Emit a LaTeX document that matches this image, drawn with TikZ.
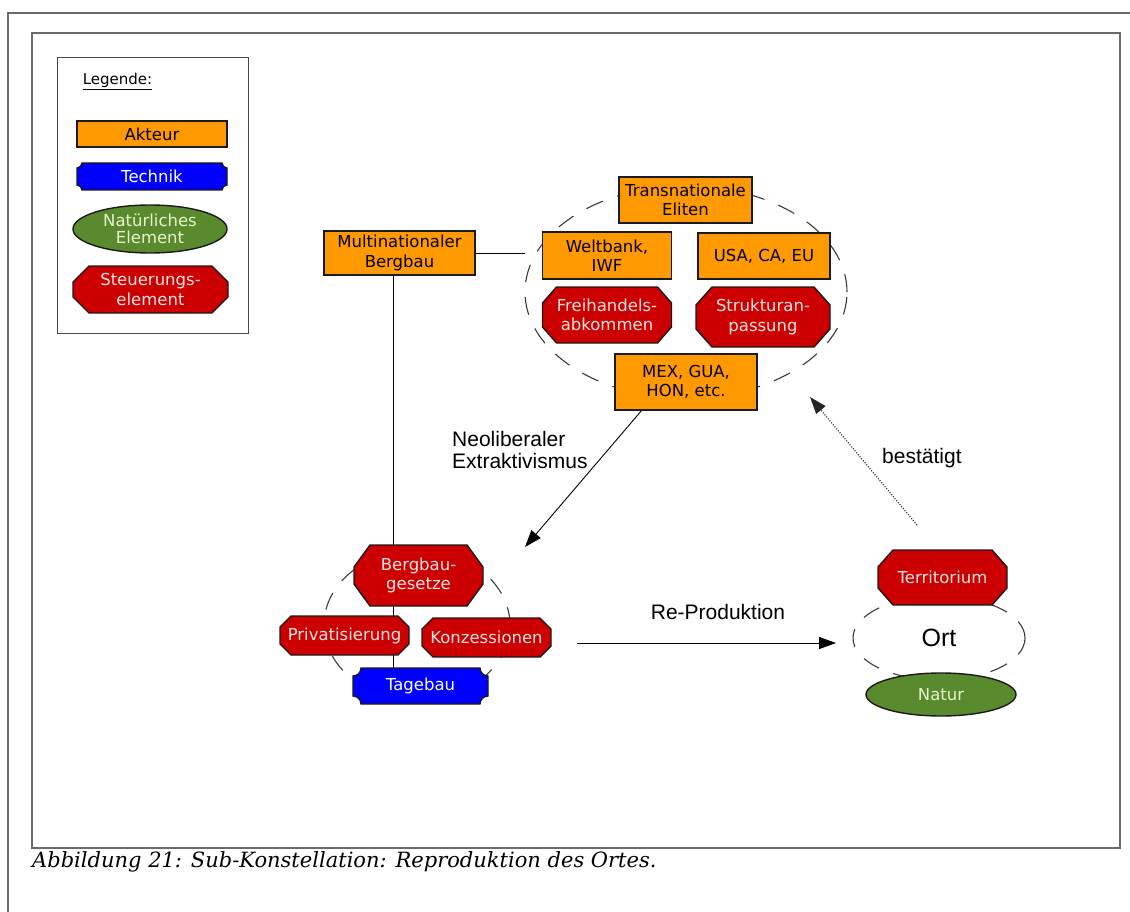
\documentclass[tikz,border=0pt]{standalone}
\usepackage{fontspec}
\usetikzlibrary{shapes.geometric,arrows.meta,calc}
\newfontfamily\dvs{DejaVu Sans}
\newfontfamily\lbs{Liberation Sans}
\newfontfamily\dvserif{DejaVu Serif}
\definecolor{orangeC}{HTML}{FF9900}
\definecolor{redC}{HTML}{CC0000}
\definecolor{blueC}{HTML}{0000FF}
\definecolor{greenC}{HTML}{5A8A2E}
\definecolor{greentext}{HTML}{E8F2CC}
\definecolor{redtext}{HTML}{FFE4E4}
\definecolor{edgeC}{HTML}{1A1A1A}
\definecolor{dashC}{HTML}{3A3A3A}
\definecolor{frameC}{HTML}{6A6A6A}
\pgfdeclarelayer{bg}
\pgfsetlayers{bg,main}
% octagon around node #1, chamfer x #2, chamfer y #3, style #4
\newcommand\octo[4]{%
 \draw[#4] ($(#1.north west)+(#2,0)$) -- ($(#1.north east)+(-#2,0)$) -- ($(#1.north east)+(0,#3)$) -- ($(#1.south east)+(0,-#3)$) -- ($(#1.south east)+(-#2,0)$) -- ($(#1.south west)+(#2,0)$) -- ($(#1.south west)+(0,-#3)$) -- ($(#1.north west)+(0,#3)$) -- cycle;}
% ticket shape (concave notched corners) around node #1, radius #2, style #3
\newcommand\ticketshape[3]{%
 \draw[#3] ($(#1.north west)+(#2,0)$) -- ($(#1.north east)+(-#2,0)$)
   .. controls +(0,0.55*#2) and +(-0.55*#2,0) .. ($(#1.north east)+(0,#2)$)
   -- ($(#1.south east)+(0,-#2)$)
   .. controls +(-0.55*#2,0) and +(0,-0.55*#2) .. ($(#1.south east)+(-#2,0)$)
   -- ($(#1.south west)+(#2,0)$)
   .. controls +(0,-0.55*#2) and +(0.55*#2,0) .. ($(#1.south west)+(0,-#2)$)
   -- ($(#1.north west)+(0,#2)$)
   .. controls +(0.55*#2,0) and +(0,0.55*#2) .. ($(#1.north west)+(#2,0)$) -- cycle;}
\begin{document}
\begin{tikzpicture}[x=1pt,y=-1pt,
  box/.style={inner sep=0pt, outer sep=0pt, align=center, font=\dvs\fontsize{16.5}{19.5}\selectfont},
  akteur/.style={box, rectangle, draw=edgeC, line width=1.4pt, fill=orangeC, text=black},
  steuer/.style={box, rectangle, text=redtext},
  technik/.style={box, rectangle, text=white},
  natur/.style={box, ellipse, draw=edgeC, line width=1.4pt, fill=greenC, text=greentext},
  redshape/.style={draw=edgeC, line width=1.4pt, fill=redC},
  blueshape/.style={draw=edgeC, line width=1.4pt, fill=blueC},
  dashell/.style={ellipse, draw=dashC, line width=1.1pt, dash pattern=on 18pt off 15pt, inner sep=0pt, outer sep=0pt},
  conn/.style={draw=black, line width=0.9pt},
  arr/.style={conn, -{Triangle[length=17pt,width=12pt]}},
  dotarr/.style={draw=black!85, line width=1.2pt, dash pattern=on 1pt off 1.6pt, -{Triangle[length=17pt,width=12pt]}},
  lbl/.style={font=\lbs\fontsize{21}{22}\selectfont, inner sep=0pt, align=left},
  frame/.style={draw=frameC, line width=1.8pt},
  legframe/.style={draw=edgeC!80, line width=1pt}]
\useasboundingbox (0,0) rectangle (1130,912);
% frames
\draw[frame] (8,912) -- (8,13) -- (1130,13);
\draw[frame] (32,33) rectangle (1120,848);
\draw[legframe] (57,58) rectangle (248,333);

% legend
\node[box, anchor=base, font=\dvs\fontsize{15}{18}\selectfont] (legT) at (117.5,85) {\underline{Legende:}};
\node[akteur, minimum width=150, minimum height=26] (legA) at (152,134) {Akteur};
\node[technik, minimum width=150, minimum height=27] (legB) at (152,176.5) {Technik};
\node[natur, minimum width=154, minimum height=48, font=\dvs\fontsize{16.5}{17.5}\selectfont] (legC) at (150,229) {Natürliches\\Element};
\node[steuer, minimum width=155, minimum height=47] (legD) at (150.5,289.5) {Steuerungs-\\element};

% upper cluster
\node[akteur, minimum width=133, minimum height=46] (tne) at (685.5,200) {Transnationale\\Eliten};
\node[akteur, minimum width=151, minimum height=44] (mb) at (399.5,253) {Multinationaler\\Bergbau};
\node[akteur, minimum width=129, minimum height=47] (wb) at (607,255.5) {Weltbank,\\IWF};
\node[akteur, minimum width=132, minimum height=46] (usa) at (764,256) {USA, CA, EU};
\node[steuer, minimum width=129, minimum height=56] (fha) at (607,315) {Freihandels-\\abkommen};
\node[steuer, minimum width=134, minimum height=60] (sap) at (763,317) {Strukturan-\\passung};
\node[akteur, minimum width=142, minimum height=56] (mex) at (686,382) {MEX, GUA,\\HON, etc.};

% lower cluster
\node[steuer, minimum width=129, minimum height=61] (bgg) at (418.5,575.5) {Bergbau-\\gesetze};
\node[steuer, minimum width=129, minimum height=39] (priv) at (344.5,635.5) {Privatisierung};
\node[steuer, minimum width=129, minimum height=39] (konz) at (486.5,637.5) {Konzessionen};
\node[technik, minimum width=135, minimum height=36] (tag) at (420.5,686) {Tagebau};

% right cluster
\node[steuer, minimum width=129, minimum height=55] (terr) at (942.5,577.5) {Territorium};
\node[natur, minimum width=150, minimum height=43] (nat) at (941,694.5) {Natur};

% labels
\node[lbl, anchor=base west] (neoL) at (452,468) {Neoliberaler\\Extraktivismus};
\node[lbl, anchor=base west] (bestL) at (882,463) {bestätigt};
\node[lbl, anchor=base] (repL) at (718,619) {Re-Produktion};

% caption
\node[anchor=base west, inner sep=0pt, font=\dvserif\itshape\fontsize{21}{25}\selectfont] (cap) at (32,867) {Abbildung 21: Sub-Konstellation: Reproduktion des Ortes.};

% free ends of connectors
\coordinate (neoE) at (525,547);
\coordinate (rpS) at (577,643);
\coordinate (rpE) at (836,643);
\coordinate (bsS) at (917,525);
\coordinate (bsE) at (810,397);

\begin{pgfonlayer}{bg}
  \node[dashell, minimum width=322, minimum height=212] (ellU) at (686,292) {};
  \node[dashell, minimum width=186, minimum height=150] (ellL) at (417,625) {};
  \node[dashell, minimum width=172, minimum height=84, font=\lbs\fontsize{25}{25}\selectfont] (ort) at (939,638) {Ort};
  \draw[conn] (mb.east) -- (mb.east -| ellU.west);
  \draw[conn] ([xshift=-6.5pt]mb.south) -- ([xshift=-6.5pt]mb.south |- tag.north);
  \draw[arr] ([xshift=-44pt]mex.south) -- (neoE);
  \draw[arr] (rpS) -- (rpE);
  \draw[dotarr] (bsS) -- (bsE);
  \octo{legD}{16}{16}{redshape}
  \octo{fha}{14}{16}{redshape}
  \octo{sap}{16}{18}{redshape}
  \octo{bgg}{16}{22}{redshape}
  \octo{priv}{11}{11}{redshape}
  \octo{konz}{11}{11}{redshape}
  \octo{terr}{15}{17}{redshape}
  \ticketshape{legB}{5}{blueshape}
  \ticketshape{tag}{8}{blueshape}
\end{pgfonlayer}
\end{tikzpicture}
\end{document}
